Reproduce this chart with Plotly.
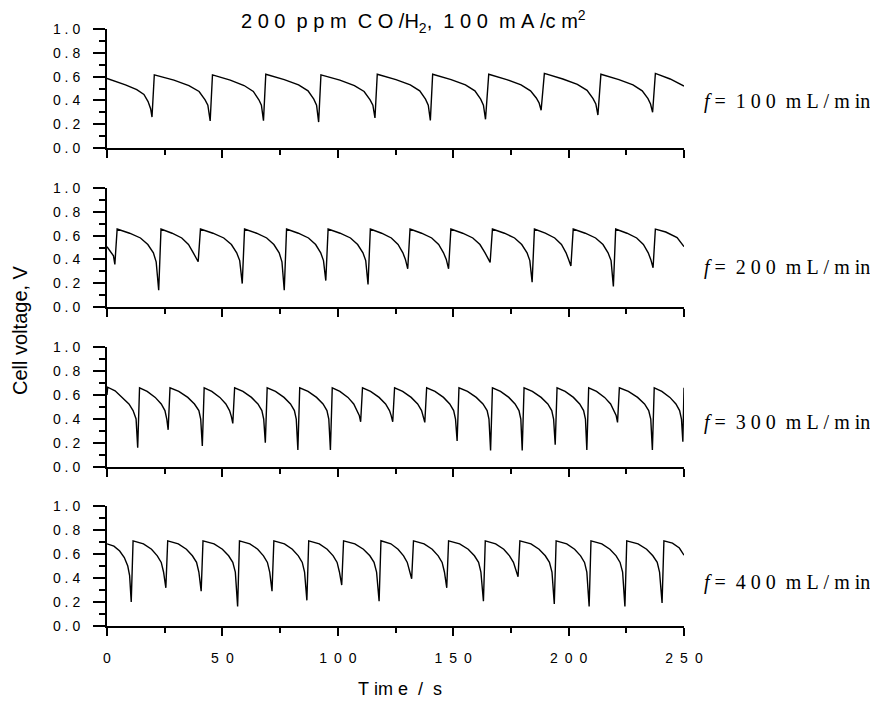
import plotly.graph_objects as go

# ---------------- data ----------------
t_100 = [0, 4, 8, 12.9, 16, 17.8, 18.9, 19.5,
         20.5, 29.0, 35.5, 39.9, 42.5, 43.7, 44.7,
         45.7, 53.4, 59.4, 63.4, 65.8, 66.9, 67.8,
         68.8, 76.8, 83.0, 87.1, 89.6, 90.8, 91.7,
         92.7, 100.9, 107.2, 111.4, 114.0, 115.2, 116.1,
         117.1, 125.2, 131.4, 135.5, 138.0, 139.2, 140.1,
         141.1, 149.1, 155.3, 159.4, 161.9, 163.1, 164.0,
         165.4, 173.2, 179.4, 183.5, 186.0, 187.2, 188.1,
         189.5, 197.5, 203.8, 208.0, 210.6, 211.8, 212.7,
         214.0, 221.8, 227.9, 231.9, 234.4, 235.5, 236.4,
         237.6, 244, 250]
v_100 = [0.585, 0.56, 0.53, 0.49, 0.45, 0.39, 0.33, 0.26,
         0.615, 0.57, 0.525, 0.475, 0.405, 0.36, 0.227,
         0.615, 0.57, 0.525, 0.475, 0.405, 0.36, 0.23,
         0.62, 0.575, 0.53, 0.48, 0.41, 0.36, 0.218,
         0.615, 0.57, 0.525, 0.475, 0.405, 0.36, 0.252,
         0.62, 0.575, 0.53, 0.48, 0.41, 0.36, 0.232,
         0.62, 0.575, 0.53, 0.48, 0.41, 0.36, 0.241,
         0.62, 0.575, 0.53, 0.48, 0.42, 0.38, 0.317,
         0.627, 0.58, 0.535, 0.485, 0.415, 0.37, 0.277,
         0.62, 0.575, 0.53, 0.48, 0.415, 0.37, 0.30,
         0.627, 0.58, 0.52]

t_200 = [0, 1.5, 2.8, 3.4,
         4.4, 9.8, 14.5, 17.7, 20.1, 21.3, 22.4,
         23.4, 28.2, 32.4, 35.3, 37.4, 39.5,
         40.5, 45.9, 50.6, 53.9, 56.2, 57.5, 58.6,
         59.6, 64.8, 69.2, 72.3, 74.6, 75.8, 76.8,
         77.8, 82.9, 87.3, 90.4, 92.6, 93.8, 94.8,
         95.8, 101.0, 105.5, 108.6, 110.9, 112.1, 113.1,
         114.1, 119.0, 123.2, 126.1, 128.2, 129.3, 130.3,
         131.3, 136.3, 140.7, 143.7, 145.8, 147.0, 148.0,
         149.0, 154.1, 158.5, 161.6, 163.8, 165.0, 166.0,
         167.0, 172.2, 176.6, 179.7, 182.0, 183.2, 184.2,
         185.2, 189.9, 194.0, 196.9, 198.9, 200.0, 201.0,
         202.0, 207.2, 211.7, 214.9, 217.1, 218.4, 219.4,
         220.4, 225.3, 229.5, 232.4, 234.5, 235.6, 236.6,
         237.6, 242.1, 247.0, 250]
v_200 = [0.507, 0.47, 0.43, 0.358,
         0.655, 0.62, 0.58, 0.525, 0.455, 0.38, 0.141,
         0.655, 0.62, 0.58, 0.525, 0.455, 0.38,
         0.655, 0.62, 0.58, 0.525, 0.455, 0.39, 0.197,
         0.655, 0.62, 0.58, 0.525, 0.455, 0.38, 0.141,
         0.655, 0.62, 0.58, 0.525, 0.455, 0.39, 0.222,
         0.655, 0.62, 0.58, 0.525, 0.455, 0.39, 0.189,
         0.655, 0.62, 0.58, 0.525, 0.455, 0.40, 0.321,
         0.655, 0.62, 0.58, 0.525, 0.455, 0.40, 0.321,
         0.655, 0.62, 0.58, 0.525, 0.455, 0.41, 0.375,
         0.655, 0.62, 0.58, 0.525, 0.455, 0.39, 0.208,
         0.655, 0.62, 0.58, 0.525, 0.455, 0.40, 0.344,
         0.655, 0.62, 0.58, 0.525, 0.455, 0.39, 0.172,
         0.655, 0.62, 0.58, 0.525, 0.455, 0.40, 0.33,
         0.655, 0.63, 0.583, 0.507]

t_300 = [0, 0.3, 3.5, 6.7, 9.5, 11.3, 12.6, 13.3,
         14.1, 17.4, 20.9, 23.5, 25.1, 25.9, 26.5,
         27.3, 31.1, 35.0, 37.9, 39.8, 40.6, 41.3,
         42.1, 45.4, 48.9, 51.5, 53.1, 53.9, 54.5,
         55.3, 58.9, 62.6, 65.4, 67.1, 67.9, 68.6,
         69.4, 73.0, 76.7, 79.5, 81.2, 82.0, 82.7,
         83.5, 87.1, 90.8, 93.6, 95.3, 96.1, 96.8,
         97.6, 100.9, 104.4, 106.9, 108.5, 109.3, 109.9,
         110.7, 114.2, 117.9, 120.7, 122.4, 123.1, 123.8,
         124.6, 128.1, 131.8, 134.6, 136.3, 137.0, 137.7,
         138.5, 142.1, 145.8, 148.5, 150.2, 151.0, 151.7,
         152.5, 156.2, 160.0, 162.9, 164.7, 165.5, 166.2,
         167.0, 170.5, 174.1, 176.8, 178.5, 179.3, 179.9,
         180.7, 184.3, 188.1, 191.0, 192.7, 193.5, 194.2,
         195.0, 198.5, 202.1, 204.8, 206.5, 207.3, 207.9,
         208.7, 212.1, 215.6, 218.2, 219.8, 220.6, 221.2,
         222.0, 225.9, 229.9, 232.9, 234.7, 235.6, 236.3,
         237.1, 240.4, 243.9, 246.5, 248.1, 248.9, 249.5,
         250]
v_300 = [0.60, 0.665, 0.635, 0.58, 0.525, 0.47, 0.40, 0.161,
         0.66, 0.63, 0.58, 0.525, 0.47, 0.40, 0.31,
         0.66, 0.63, 0.58, 0.525, 0.47, 0.40, 0.175,
         0.66, 0.63, 0.58, 0.525, 0.47, 0.42, 0.363,
         0.66, 0.63, 0.58, 0.525, 0.47, 0.40, 0.203,
         0.66, 0.63, 0.58, 0.525, 0.47, 0.40, 0.141,
         0.66, 0.63, 0.58, 0.525, 0.47, 0.40, 0.141,
         0.66, 0.63, 0.58, 0.525, 0.47, 0.43, 0.377,
         0.66, 0.63, 0.58, 0.525, 0.47, 0.43, 0.377,
         0.66, 0.63, 0.58, 0.525, 0.47, 0.43, 0.372,
         0.66, 0.63, 0.58, 0.525, 0.47, 0.40, 0.217,
         0.66, 0.63, 0.58, 0.525, 0.47, 0.40, 0.138,
         0.66, 0.63, 0.58, 0.525, 0.47, 0.40, 0.138,
         0.66, 0.63, 0.58, 0.525, 0.47, 0.40, 0.186,
         0.66, 0.63, 0.58, 0.525, 0.47, 0.40, 0.141,
         0.66, 0.63, 0.58, 0.525, 0.47, 0.43, 0.372,
         0.66, 0.63, 0.58, 0.525, 0.47, 0.40, 0.141,
         0.66, 0.63, 0.58, 0.525, 0.47, 0.40, 0.211,
         0.66]

t_400 = [0, 3, 5.5, 7.5, 9.0, 9.8, 10.5,
         11.3, 15.8, 19.3, 21.8, 23.5, 24.5, 25.5,
         26.3, 30.9, 34.4, 37.0, 38.8, 39.8, 40.8,
         41.6, 46.4, 50.0, 52.7, 54.5, 55.6, 56.6,
         57.4, 61.9, 65.3, 67.8, 69.5, 70.5, 71.5,
         72.3, 76.9, 80.3, 82.9, 84.6, 85.6, 86.6,
         87.4, 92.0, 95.4, 98.0, 99.7, 100.7, 101.7,
         102.5, 107.4, 111.1, 113.9, 115.7, 116.8, 117.9,
         118.7, 123.0, 126.1, 128.5, 130.1, 131.1, 132.0,
         132.8, 137.4, 140.9, 143.5, 145.2, 146.2, 147.2,
         148.0, 152.8, 156.5, 159.2, 161.0, 162.0, 163.1,
         163.9, 168.4, 171.9, 174.4, 176.1, 177.1, 178.1,
         178.9, 183.7, 187.2, 189.9, 191.7, 192.8, 193.8,
         194.6, 199.2, 202.6, 205.2, 206.9, 207.9, 208.9,
         209.7, 214.4, 217.9, 220.6, 222.3, 223.4, 224.4,
         225.2, 230.1, 233.8, 236.5, 238.4, 239.4, 240.5,
         241.3, 245.0, 248.0, 250]
v_400 = [0.685, 0.665, 0.625, 0.57, 0.50, 0.42, 0.20,
         0.71, 0.685, 0.64, 0.585, 0.53, 0.45, 0.318,
         0.71, 0.685, 0.64, 0.585, 0.53, 0.45, 0.29,
         0.71, 0.685, 0.64, 0.585, 0.53, 0.45, 0.163,
         0.71, 0.685, 0.64, 0.585, 0.53, 0.45, 0.29,
         0.71, 0.685, 0.64, 0.585, 0.53, 0.45, 0.214,
         0.71, 0.685, 0.64, 0.585, 0.53, 0.45, 0.341,
         0.71, 0.685, 0.64, 0.585, 0.53, 0.45, 0.206,
         0.71, 0.685, 0.64, 0.585, 0.53, 0.46, 0.394,
         0.71, 0.685, 0.64, 0.585, 0.53, 0.45, 0.318,
         0.71, 0.685, 0.64, 0.585, 0.53, 0.45, 0.206,
         0.71, 0.685, 0.64, 0.585, 0.53, 0.46, 0.411,
         0.71, 0.685, 0.64, 0.585, 0.53, 0.45, 0.183,
         0.71, 0.685, 0.64, 0.585, 0.53, 0.45, 0.163,
         0.71, 0.685, 0.64, 0.585, 0.53, 0.45, 0.163,
         0.71, 0.685, 0.64, 0.585, 0.53, 0.45, 0.192,
         0.71, 0.69, 0.65, 0.59]

NB = "\u00a0"
EN = "\u2002"
flow_labels = [f"<i>f</i>{NB}={NB}{NB}1{NB}0{NB}0{NB}{NB}m{NB}L{NB}/{NB}m{NB}in",
               f"<i>f</i>{NB}={NB}{NB}2{NB}0{NB}0{NB}{NB}m{NB}L{NB}/{NB}m{NB}in",
               f"<i>f</i>{NB}={NB}{NB}3{NB}0{NB}0{NB}{NB}m{NB}L{NB}/{NB}m{NB}in",
               f"<i>f</i>{NB}={NB}{NB}4{NB}0{NB}0{NB}{NB}m{NB}L{NB}/{NB}m{NB}in"]
y_tick_vals = [0.0, 0.2, 0.4, 0.6, 0.8, 1.0]
y_tick_text = [f"0{NB}.{NB}0", f"0{NB}.{NB}2", f"0{NB}.{NB}4",
               f"0{NB}.{NB}6", f"0{NB}.{NB}8", f"1{NB}.{NB}0"]
x_tick_vals = [0, 50, 100, 150, 200, 250]
x_tick_text = ["0", f"5{EN}0", f"1{EN}0{EN}0", f"1{EN}5{EN}0", f"2{EN}0{EN}0", f"2{EN}5{EN}0"]
title_text = (f"2{NB}0{NB}0{NB}{NB}p{NB}p{NB}m{NB}{NB}C{NB}O{NB}/H<sub>2</sub>,"
              f"{NB}{NB}1{NB}0{NB}0{NB}{NB}m{NB}A{NB}/c{NB}m<sup>2</sup>")
xlabel_text = f"T{NB}im{NB}e{NB}{NB}/{NB}{NB}s"
ylabel_text = "Cell voltage, V"

series_t = [t_100, t_200, t_300, t_400]
series_v = [v_100, v_200, v_300, v_400]
for a, b in zip(series_t, series_v):
    assert len(a) == len(b)

# ---------------- layout geometry (reference pixel coords) ----------------
OFF = 8                       # page body margin in the browser
W, H = 878 - OFF, 701 - OFF
L, R = 107 - OFF, 684 - OFF
TOP, BOT = 29 - OFF, 626 - OFF
panel_px = [(29, 148), (188, 307), (347, 467), (506, 626)]
ph = BOT - TOP
def py(p):
    return (BOT - (p - OFF)) / ph
def px(p):
    return ((p - OFF) - L) / (R - L)

label_y = [0.39, 0.33, 0.37, 0.36]

fig = go.Figure()
sans = "Arial, Liberation Sans, sans-serif"
serif = "Times New Roman, Liberation Serif, serif"

for i in range(4):
    n = i + 1
    xa = "x" if n == 1 else f"x{n}"
    ya = "y" if n == 1 else f"y{n}"
    fig.add_trace(go.Scatter(x=series_t[i], y=series_v[i], mode="lines",
                             line=dict(color="black", width=1.4),
                             xaxis=xa, yaxis=ya, showlegend=False,
                             hoverinfo="skip"))
    top, bot = panel_px[i]
    xkey = "xaxis" if n == 1 else f"xaxis{n}"
    ykey = "yaxis" if n == 1 else f"yaxis{n}"
    fig.update_layout(**{
        xkey: dict(domain=[0, 1], anchor=ya, range=[0, 250],
                   showline=True, linecolor="black", linewidth=2,
                   showgrid=False, zeroline=False,
                   tickmode="array", tickvals=x_tick_vals, ticktext=x_tick_text,
                   ticks="outside", ticklen=8, tickwidth=2, tickcolor="black",
                   minor=dict(dtick=25, tick0=0, ticks="outside", ticklen=5,
                              tickwidth=2, tickcolor="black", showgrid=False),
                   showticklabels=(n == 4), ticklabelstandoff=10,
                   tickfont=dict(family=sans, size=14, color="black"),
                   fixedrange=True),
        ykey: dict(domain=[py(bot), py(top)], anchor=xa, range=[0, 1.0],
                   showline=True, linecolor="black", linewidth=2,
                   showgrid=False, zeroline=False,
                   tickmode="array", tickvals=y_tick_vals, ticktext=y_tick_text,
                   ticks="outside", ticklen=12, tickwidth=2, tickcolor="black",
                   minor=dict(dtick=0.1, tick0=0, ticks="outside", ticklen=6,
                              tickwidth=2, tickcolor="black", showgrid=False),
                   ticklabelstandoff=10,
                   tickfont=dict(family=sans, size=14, color="black"),
                   fixedrange=True),
    })
    fig.add_annotation(text=flow_labels[i], xref="paper", yref=ya,
                       x=px(702), y=label_y[i],
                       xanchor="left", yanchor="middle", showarrow=False,
                       font=dict(family=serif, size=20, color="black"))

fig.add_annotation(text=title_text, xref="paper", yref="paper",
                   x=px(413), y=py(21), xanchor="center", yanchor="middle",
                   showarrow=False, font=dict(family=sans, size=20, color="black"))
fig.add_annotation(text=xlabel_text, xref="paper", yref="paper",
                   x=px(400), y=py(689), xanchor="center", yanchor="middle",
                   showarrow=False, font=dict(family=sans, size=18, color="black"))
fig.add_annotation(text=ylabel_text, xref="paper", yref="paper",
                   x=px(20), y=py(330), xanchor="center", yanchor="middle",
                   textangle=-90, showarrow=False,
                   font=dict(family=sans, size=20, color="black"))

fig.update_layout(width=W, height=H, autosize=False,
                  margin=dict(l=L, r=W - R, t=TOP, b=H - BOT, pad=0),
                  paper_bgcolor="white", plot_bgcolor="white",
                  showlegend=False)

fig.write_html("out.html", config={"displayModeBar": False})
